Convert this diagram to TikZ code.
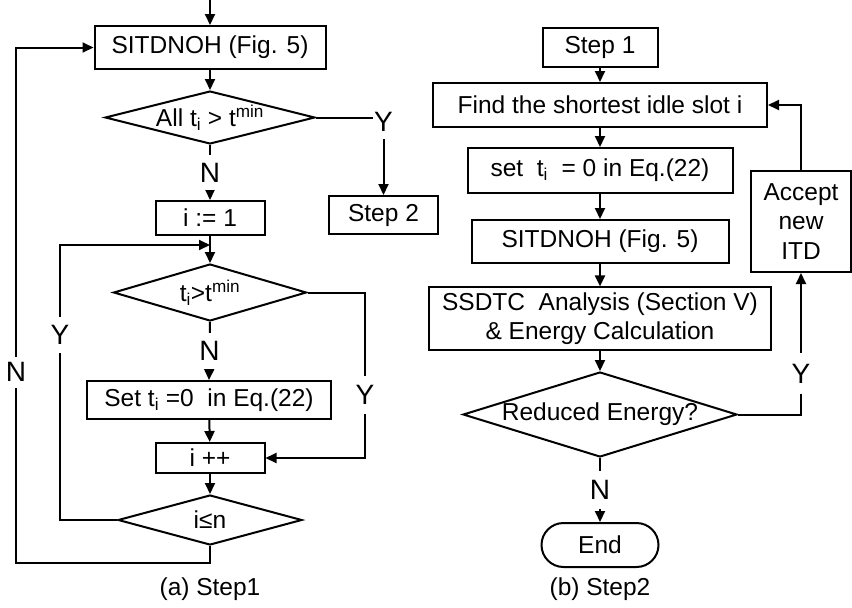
\documentclass[tikz,border=0pt]{standalone}
\usepackage{fontspec}
\setmainfont{Liberation Sans}
\usetikzlibrary{shapes.geometric,shapes.misc,arrows.meta}
\begin{document}
\begin{tikzpicture}[x=1pt,y=-1pt,
  every node/.style={font=\fontsize{24.5}{29.4}\selectfont},
  box/.style={draw, line width=2pt, inner sep=0pt, align=center},
  dia/.style={draw, diamond, line width=2pt, inner sep=0pt},
  lab/.style={fill=white, inner xsep=1pt, inner ysep=8pt, font=\fontsize{28}{32}\selectfont},
  arr/.style={line width=2pt, -{Triangle[length=11pt,width=10pt]}}
]
\useasboundingbox (0,0) rectangle (852,608);

% ---------- (a) Step1 ----------
\coordinate (in) at (210,0);
\node[box, minimum width=231pt, minimum height=43pt] (sit1) at (210,47.5) {SITDNOH (Fig. 5)};
\node[dia, minimum width=210pt, minimum height=53pt,
      label=center:{All t\textsubscript{i} > t\textsuperscript{min}}] (d1) at (210,117.5) {};
\node[box, minimum width=109pt, minimum height=38pt] (step2) at (383.5,215) {Step 2};
\node[box, minimum width=109pt, minimum height=34pt] (i1) at (210,218) {i := 1};
\node[dia, minimum width=193pt, minimum height=57pt,
      label=center:{t\textsubscript{i}>t\textsuperscript{min}}] (d2) at (210,292.5) {};
\node[box, minimum width=244pt, minimum height=38pt] (set1) at (209,400) {Set t\textsubscript{i} =0\ \ in Eq.(22)};
\node[box, minimum width=109pt, minimum height=30pt] (ipp) at (210,458) {i ++};
\node[dia, minimum width=184pt, minimum height=50pt, label=center:{i≤n}] (d3) at (210,520) {};
\coordinate (j1) at (210,245);
\node (capa) at (210,589) {(a) Step1};

\draw[arr] (in) -- (sit1.north);
\draw[arr] (sit1) -- (d1);
\draw[arr] (d1.east) -| node[lab, yshift=-4pt, pos=0.5] {Y} (step2.north);
\draw[arr] (d1.south) -- node[lab] {N} (i1.north);
\draw[arr] (i1) -- (d2.north);
\draw[arr] (d2.south) -- node[lab] {N} (set1.north);
\draw[arr] (d2.east) -| node[lab, inner ysep=9pt, pos=0.81] {Y} (365,458) -- (ipp.east);
\draw[arr] (set1) -- (ipp);
\draw[arr] (ipp) -- (d3.north);
\draw[arr] (d3.west) -- (60,520) -- node[lab, pos=0.673] {Y} (60,245) -- (j1);
\draw[arr] (d3.south) |- (16,563) -- node[lab, inner ysep=6pt, pos=0.37] {N} (16,47.5) -- (sit1.west);

% ---------- (b) Step2 ----------
\node[box, minimum width=115pt, minimum height=39pt] (st1) at (600,47.5) {Step 1};
\node[box, minimum width=334pt, minimum height=44pt] (find) at (600,105) {Find the shortest idle slot i};
\node[box, minimum width=265pt, minimum height=45pt] (set2) at (600,170.5) {set\ \ t\textsubscript{i}\ \ = 0 in Eq.(22)};
\node[box, minimum width=257pt, minimum height=43pt] (sit2) at (600,241.5) {SITDNOH (Fig. 5)};
\node[box, line width=1.2pt, minimum width=342pt, minimum height=63pt] (ssdtc) at (600,318.5)
      {SSDTC\ \ Analysis (Section V)\\\& Energy Calculation};
\node[dia, minimum width=274pt, minimum height=85pt, label=center:{Reduced Energy?}] (dR) at (600,414.5) {};
\node[box, minimum width=100pt, minimum height=101pt] (acc) at (801,221.5) {Accept\\new\\ITD};
\node[draw, rounded rectangle, line width=2pt, minimum width=117pt, minimum height=44pt, inner sep=0pt]
      (endn) at (600,545) {End};
\node (capb) at (600,589) {(b) Step2};

\draw[arr] (st1) -- (find);
\draw[arr] (find) -- (set2);
\draw[arr] (set2) -- (sit2);
\draw[arr] (sit2) -- (ssdtc);
\draw[arr] (ssdtc) -- (dR.north);
\draw[arr] (dR.east) -| node[lab, inner ysep=11pt, pos=0.645] {Y} (acc.south);
\draw[arr] (acc.north) |- (find.east);
\draw[arr] (dR.south) -- node[lab, inner ysep=9pt] {N} (endn.north);
\end{tikzpicture}
\end{document}
